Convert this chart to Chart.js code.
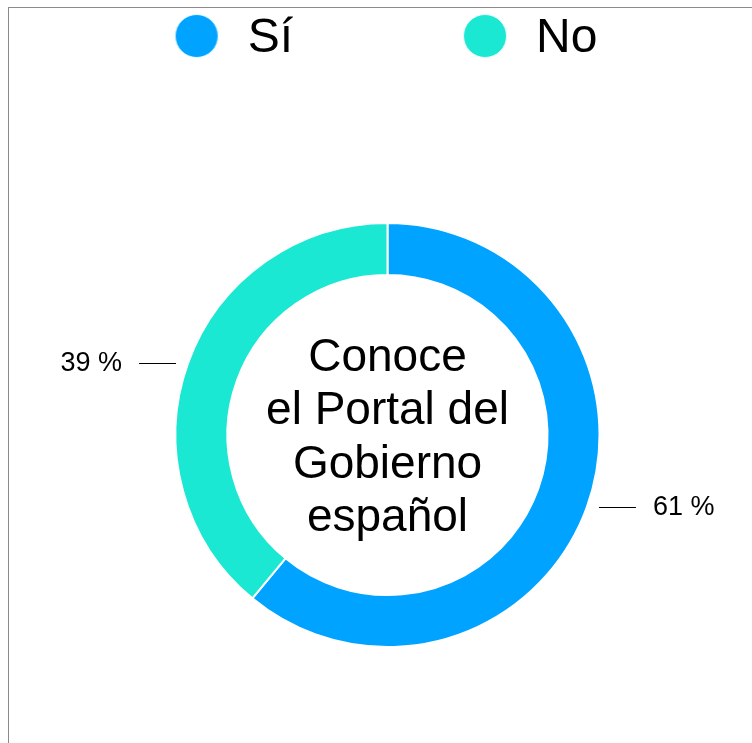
<!DOCTYPE html>
<html>
<head>
<meta charset="utf-8">
<script src="https://cdn.jsdelivr.net/npm/chart.js@4/dist/chart.umd.min.js"></script>
<style>
  html, body { margin: 0; padding: 0; background: #fff; overflow: hidden; }
  #frame {
    position: absolute; left: 8px; top: 7px;
    width: 744px; height: 800px;
    border-top: 1px solid #8a8a8a; border-left: 1px solid #8a8a8a;
    overflow: hidden;
  }
  #chart { display: block; }
</style>
</head>
<body>
<div id="frame"><canvas id="chart" width="743" height="789"></canvas></div>
<script>
// data
const labels = ['Sí', 'No'];
const values = [61, 39];
const colors = ['#00a3ff', '#1be8d3'];
const centerLines = ['Conoce', 'el Portal del', 'Gobierno', 'español'];

const FONT = '"Liberation Sans", Arial, Helvetica, sans-serif';

// round legend markers (drawn a bit above the image centre)
function dot(color) {
    const c = document.createElement('canvas');
    c.width = 46; c.height = 50;
    const g = c.getContext('2d');
    g.beginPath();
    g.arc(23, 22, 21.5, 0, Math.PI * 2);
    g.fillStyle = color;
    g.fill();
    g.lineWidth = 1;
    g.strokeStyle = '#e6fbff';
    g.stroke();
    return c;
}

// text in the hole
const centerText = {
    id: 'centerText',
    afterDatasetsDraw(chart) {
        const arc = chart.getDatasetMeta(0).data[0];
        if (!arc) return;
        const ctx = chart.ctx;
        ctx.save();
        ctx.font = '46px ' + FONT;
        ctx.fillStyle = '#000';
        ctx.textAlign = 'center';
        ctx.textBaseline = 'alphabetic';
        const lh = 53.3;
        centerLines.forEach(function (t, i) {
            ctx.fillText(t, arc.x, arc.y + 16 + (i - (centerLines.length - 1) / 2) * lh);
        });
        ctx.restore();
    }
};

// percentage labels with short leader lines
const sliceLabels = {
    id: 'sliceLabels',
    afterDatasetsDraw(chart) {
        const ctx = chart.ctx;
        const total = values.reduce(function (a, b) { return a + b; }, 0);
        ctx.save();
        ctx.font = '27px ' + FONT;
        ctx.fillStyle = '#000';
        ctx.strokeStyle = '#000';
        ctx.lineWidth = 1;
        ctx.textBaseline = 'middle';
        chart.getDatasetMeta(0).data.forEach(function (arc, i) {
            const p = arc.getProps(['x', 'y', 'startAngle', 'endAngle', 'outerRadius'], true);
            const mid = (p.startAngle + p.endAngle) / 2;
            const px = p.x + Math.cos(mid) * p.outerRadius;
            const py = Math.round(p.y + Math.sin(mid) * p.outerRadius) + 0.5;
            const dir = Math.cos(mid) >= 0 ? 1 : -1;
            ctx.beginPath();
            ctx.moveTo(px + dir * 12, py);
            ctx.lineTo(px + dir * 49, py);
            ctx.stroke();
            ctx.textAlign = dir > 0 ? 'left' : 'right';
            ctx.fillText(Math.round(values[i] / total * 100) + ' %', px + dir * 66, py);
        });
        ctx.restore();
    }
};

new Chart(document.getElementById('chart'), {
    type: 'doughnut',
    data: {
        labels: labels,
        datasets: [{
            data: values,
            backgroundColor: colors,
            borderColor: '#ffffff',
            borderWidth: 2,
            hoverOffset: 0
        }]
    },
    options: {
        responsive: false,
        animation: false,
        radius: 212,
        cutout: '75.5%',
        layout: { padding: { left: 14, top: 2, right: 0, bottom: 0 } },
        plugins: {
            tooltip: { enabled: false },
            legend: {
                position: 'top',
                labels: {
                    usePointStyle: true,
                    pointStyleWidth: 54,
                    boxHeight: 30,
                    padding: 5,
                    color: '#000',
                    font: { family: FONT, size: 48 },
                    generateLabels: function (chart) {
                        return labels.map(function (l, i) {
                            return {
                                // trailing spaces only widen the item to set the gap
                                text: i === 0 ? l + '            ' : l + '\u2006',
                                fillStyle: colors[i],
                                strokeStyle: colors[i],
                                lineWidth: 0,
                                pointStyle: dot(colors[i]),
                                hidden: false,
                                index: i
                            };
                        });
                    }
                }
            }
        }
    },
    plugins: [centerText, sliceLabels]
});
</script>
</body>
</html>
